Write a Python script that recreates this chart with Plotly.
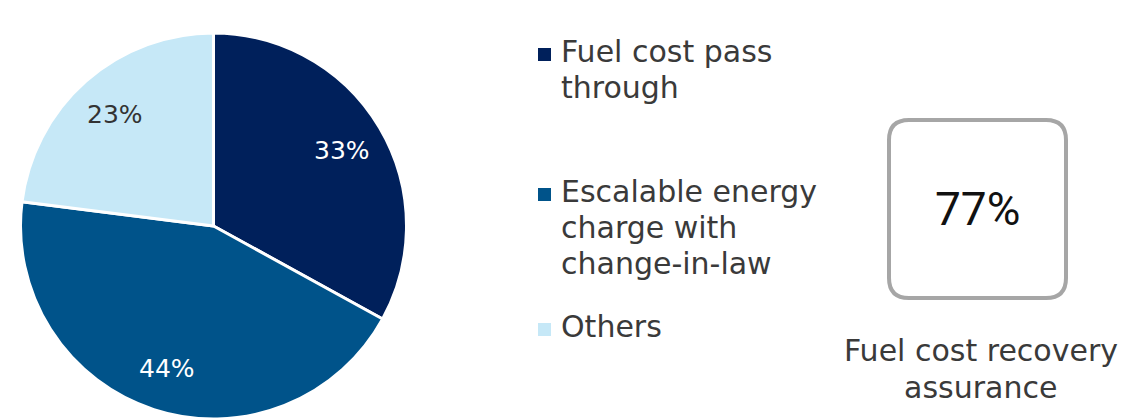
import math
import plotly.graph_objects as go

# Contract mix by fuel-cost treatment
labels = ["Fuel cost pass through", "Escalable energy charge with change-in-law", "Others"]
legend_lines = [["Fuel cost pass", "through"], ["Escalable energy", "charge with", "change-in-law"], ["Others"]]
shares = [33, 44, 23]
colors = ["#00205B", "#00538A", "#C6E8F7"]
label_colors = ["#FFFFFF", "#FFFFFF", "#333333"]

recovery_value = 77
recovery_caption = ["Fuel cost recovery", "assurance"]

W, H = 1148, 419
FONT = "DejaVu Sans"
TEXT = "#3A3A3A"

# Pie placement (pixels) - the pie fills its domain square
PIE_X0, PIE_X1 = 20, 407
PIE_TOP = 33
radius = (PIE_X1 - PIE_X0) / 2
cx, cy = (PIE_X0 + PIE_X1) / 2, PIE_TOP + radius

fig = go.Figure()

fig.add_trace(go.Pie(
    labels=labels,
    values=shares,
    sort=False,
    direction="clockwise",
    rotation=0,
    marker=dict(colors=colors, line=dict(color="white", width=3)),
    textinfo="none",
    showlegend=False,
    hoverinfo="label+percent",
    domain=dict(x=[PIE_X0 / W, PIE_X1 / W], y=[0, 1 - PIE_TOP / H]),
))

annotations = []
shapes = []

# Slice labels at each slice's mid-angle (clockwise from 12 o'clock)
total = sum(shares)
cum = 0
for v, tc in zip(shares, label_colors):
    mid = (cum + v / 2) / total * 2 * math.pi
    cum += v
    r = 0.77 * radius
    annotations.append(dict(
        xref="x", yref="y",
        x=cx + r * math.sin(mid), y=cy - r * math.cos(mid),
        xanchor="center", yanchor="middle",
        text=f"{v}%", showarrow=False,
        font=dict(family=FONT, size=25, color=tc),
    ))

# Legend: squares and wrapped labels, one block per category
first_baselines = [62, 202, 337]
line_gap = 36
for lines, color, base in zip(legend_lines, colors, first_baselines):
    shapes.append(dict(type="rect", xref="x", yref="y",
                       x0=538, x1=551, y0=base - 14, y1=base - 1,
                       fillcolor=color, line=dict(width=0)))
    for k, line in enumerate(lines):
        annotations.append(dict(
            xref="x", yref="y", x=559, y=base + k * line_gap - 11,
            xanchor="left", yanchor="middle", align="left",
            text=line, showarrow=False,
            font=dict(family=FONT, size=30, color=TEXT),
        ))

# Rounded callout box with the recovery figure
x0, x1, y0, y1, rr = 889, 1066, 120, 298, 20
path = (f"M {x0 + rr},{y0} L {x1 - rr},{y0} Q {x1},{y0} {x1},{y0 + rr} "
        f"L {x1},{y1 - rr} Q {x1},{y1} {x1 - rr},{y1} "
        f"L {x0 + rr},{y1} Q {x0},{y1} {x0},{y1 - rr} "
        f"L {x0},{y0 + rr} Q {x0},{y0} {x0 + rr},{y0} Z")
shapes.append(dict(type="path", xref="x", yref="y", path=path,
                   line=dict(color="#A6A6A6", width=4), fillcolor="white"))

annotations.append(dict(
    xref="x", yref="y", x=(x0 + x1) / 2, y=(y0 + y1) / 2,
    xanchor="center", yanchor="middle",
    text=f"{recovery_value}%", showarrow=False,
    font=dict(family="Roboto", size=46, color="#111111"),
))
for k, line in enumerate(recovery_caption):
    annotations.append(dict(
        xref="x", yref="y", x=(x0 + x1) / 2 + 3, y=361 + k * 37 - 11,
        xanchor="center", yanchor="middle",
        text=line, showarrow=False,
        font=dict(family=FONT, size=30, color=TEXT),
    ))

fig.update_layout(
    width=W, height=H,
    margin=dict(l=0, r=0, t=0, b=0),
    paper_bgcolor="white", plot_bgcolor="white",
    xaxis=dict(range=[0, W], visible=False, fixedrange=True),
    yaxis=dict(range=[H, 0], visible=False, fixedrange=True),
    shapes=shapes,
    annotations=annotations,
)

fig.write_html("out.html", config={"displayModeBar": False})
